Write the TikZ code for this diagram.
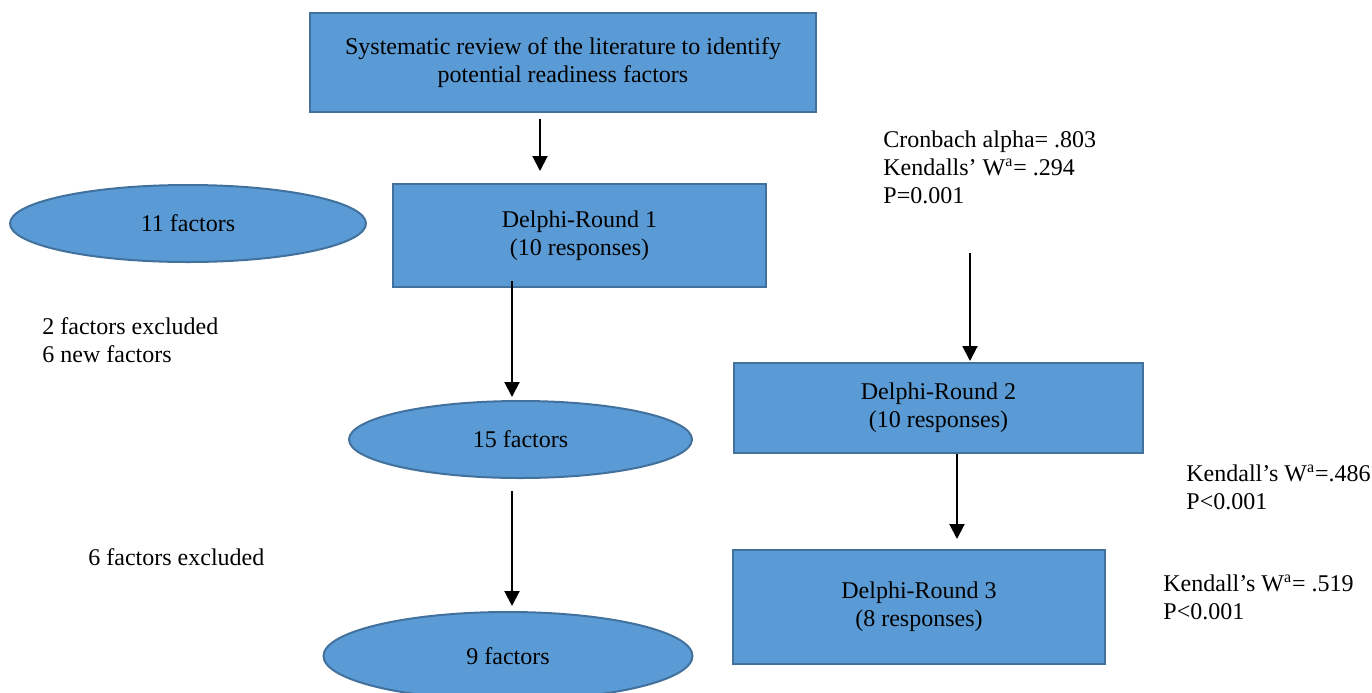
\documentclass[tikz,border=0pt]{standalone}
\usepackage{fontspec}
\setmainfont{Liberation Serif}
\usetikzlibrary{arrows.meta,shapes.geometric}
\definecolor{DelphiBlue}{HTML}{5B9BD5}
\definecolor{DelphiEdge}{HTML}{41719C}
\tikzset{
  box/.style={draw=DelphiEdge, fill=DelphiBlue, line width=1pt, align=center,
              inner sep=0pt},
  blob/.style={ellipse, draw=DelphiEdge, fill=DelphiBlue, line width=1pt,
               inner sep=0pt},
  note/.style={anchor=west, align=left, inner sep=0pt},
  flow/.style={-{Triangle[length=7.5pt,width=7.5pt]}, line width=1pt}
}
\begin{document}
\begin{tikzpicture}[x=0.5pt, y=-0.5pt, font=\fontsize{12}{14}\selectfont]
  \useasboundingbox (0,0) rectangle (1372,692);
  % left column
  \node[box, minimum width=253pt, minimum height=49.5pt] (review) at (563,62.5)
    {Systematic review of the literature to identify\\potential readiness factors};
  \node[box, minimum width=186.5pt, minimum height=51.5pt] (round1) at (579.5,235.5)
    {Delphi-Round 1\\(10 responses)};
  \node[blob, minimum width=178pt, minimum height=38.5pt] (f11) at (188,223.5) {11 factors};
  \node[blob, minimum width=171.5pt, minimum height=38.5pt] (f15) at (520.5,439.5) {15 factors};
  \node[blob, minimum width=184.5pt, minimum height=44pt] (f9) at (508,656) {9 factors};
  \node[note] (excl1) at (42,340) {2 factors excluded\\6 new factors};
  \node[note] (excl2) at (88,557) {6 factors excluded};
  % right column
  \node[note] (cron) at (883,167) {Cronbach alpha= .803\\Kendalls’ W\textsuperscript{a}= .294\\P=0.001};
  \node[box, minimum width=204.5pt, minimum height=45pt] (round2) at (938.5,408)
    {Delphi-Round 2\\(10 responses)};
  \node[box, minimum width=186pt, minimum height=57pt] (round3) at (919,607)
    {Delphi-Round 3\\(8 responses)};
  \node[note] (kend2) at (1186,487.5) {Kendall’s W\textsuperscript{a}=.486\\P<0.001};
  \node[note] (kend3) at (1163,597) {Kendall’s W\textsuperscript{a}= .519\\P<0.001};
  \coordinate (cronend) at (970,253);
  % arrows
  \draw[flow, shorten <=3pt, shorten >=6pt] ([xshift=-11.5pt]review.south) -- ([xshift=-19.75pt]round1.north);
  \draw[flow, shorten <=-3.5pt, shorten >=1.5pt] ([xshift=-33.75pt]round1.south) -- ([xshift=-4.25pt]f15.north);
  \draw[flow, shorten <=6pt, shorten >=2.5pt] ([xshift=-4.25pt]f15.south) -- ([xshift=2pt]f9.north);
  \draw[flow, shorten >=0.5pt] (cronend) -- ([xshift=15.75pt]round2.north);
  \draw[flow, shorten >=5pt] ([xshift=9.25pt]round2.south) -- ([xshift=19pt]round3.north);
\end{tikzpicture}
\end{document}
